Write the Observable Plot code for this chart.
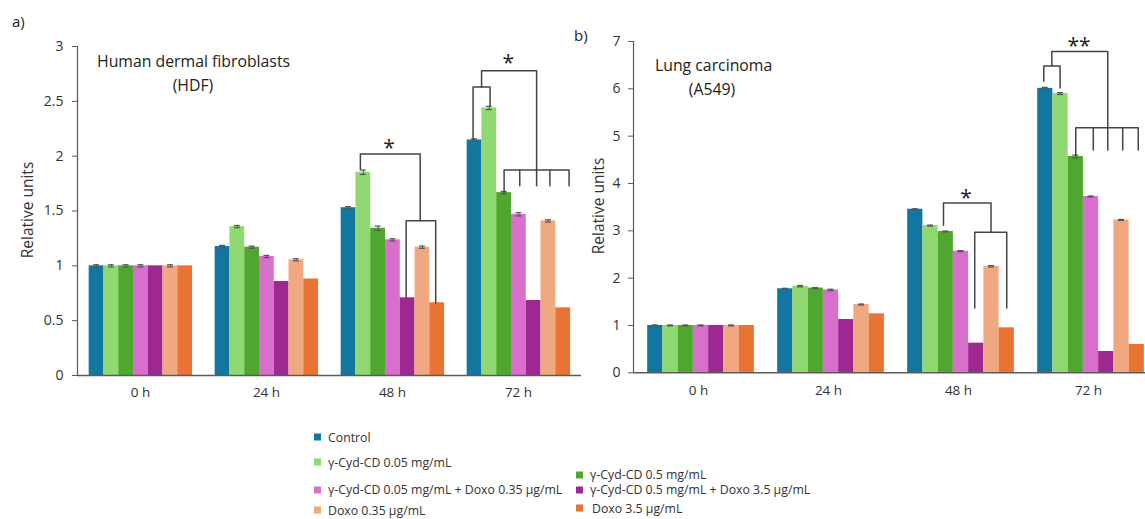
<!DOCTYPE html>
<html><head><meta charset="utf-8">
<script src="https://cdn.jsdelivr.net/npm/d3@7"></script>
<script src="https://cdn.jsdelivr.net/npm/@observablehq/plot@0.6"></script>
<style>
body{margin:0;width:1145px;height:519px;overflow:hidden;background:#fff;font-family:"Open Sans",sans-serif;position:relative;color:#222}
.abs{position:absolute;white-space:nowrap}
.lab{position:absolute;white-space:nowrap;transform:translate(-50%,-50%) rotate(-90deg);font-size:15.5px;color:#333}
.leg{position:absolute;white-space:nowrap;font-size:12.3px;color:#333;transform:translateY(-50%)}
.leg span{display:inline-block;width:7px;height:7px;margin-right:6px;vertical-align:middle;position:relative;top:-1px}
</style></head><body>
<div id="a" class="abs" style="left:0;top:0"></div>
<div id="b" class="abs" style="left:557.5px;top:0"></div>
<div id="txt"></div>
<script>
const times = ["0 h", "24 h", "48 h", "72 h"];
const series = ["Control", "γ-Cyd-CD 0.05 mg/mL", "γ-Cyd-CD 0.5 mg/mL",
  "γ-Cyd-CD 0.05 mg/mL + Doxo 0.35 µg/mL", "γ-Cyd-CD 0.5 mg/mL + Doxo 3.5 µg/mL",
  "Doxo 0.35 µg/mL", "Doxo 3.5 µg/mL"];
const colors = ["#13769f", "#8fd872", "#4fa72f", "#d86fcc", "#9d2890", "#f0a880", "#e97332"];

// Human dermal fibroblasts (HDF), one array per time point (series order)
const hdf0h  = [1.0, 1.0, 1.0, 1.0, 1.0, 1.0, 1.0];
const hdf24h = [1.176, 1.358, 1.17, 1.085, 0.857, 1.055, 0.88];
const hdf48h = [1.53, 1.853, 1.343, 1.237, 0.708, 1.17, 0.663];
const hdf72h = [2.148, 2.44, 1.668, 1.47, 0.684, 1.41, 0.617];
const hdfErr0h  = [0.01, 0.01, 0.01, 0.01, 0, 0.01, 0];
const hdfErr24h = [0.01, 0.01, 0.01, 0.01, 0, 0.01, 0];
const hdfErr48h = [0.01, 0.02, 0.02, 0.01, 0, 0.01, 0];
const hdfErr72h = [0.01, 0.015, 0.01, 0.015, 0, 0.01, 0];

// Lung carcinoma (A549)
const a5490h  = [1.0, 1.0, 1.0, 1.0, 1.0, 1.0, 1.0];
const a54924h = [1.775, 1.83, 1.79, 1.75, 1.126, 1.443, 1.246];
const a54948h = [3.456, 3.11, 2.985, 2.57, 0.626, 2.25, 0.95];
const a54972h = [6.01, 5.9, 4.57, 3.725, 0.45, 3.23, 0.6];
const a549Err0h  = [0.01, 0.01, 0.01, 0.01, 0, 0.01, 0];
const a549Err24h = [0.01, 0.015, 0.01, 0.015, 0, 0.01, 0];
const a549Err48h = [0.01, 0.01, 0.01, 0.01, 0, 0.015, 0];
const a549Err72h = [0.02, 0.02, 0.03, 0.01, 0, 0.01, 0];

const hdfTicks = [0, 0.5, 1, 1.5, 2, 2.5, 3];
const a549Ticks = [0, 1, 2, 3, 4, 5, 6, 7];

// significance brackets: [time, id, position in bar units within the group, value]
const hdfBrackets = [
  ["48 h","a",1.3,1.88],["48 h","a",1.3,2.02],["48 h","a",5.35,2.02],["48 h","a",5.35,1.41],
  ["48 h","b",4.4,0.71],["48 h","b",4.4,1.41],["48 h","b",6.4,1.41],["48 h","b",6.4,0.66],
  ["72 h","c",0.4,2.15],["72 h","c",0.4,2.63],["72 h","c",1.55,2.63],["72 h","c",1.55,2.46],
  ["72 h","d",0.975,2.63],["72 h","d",0.975,2.78],["72 h","d",4.7,2.78],["72 h","d",4.7,1.73],
  ["72 h","e",2.5,1.67],["72 h","e",2.5,1.875],["72 h","e",6.9,1.875],["72 h","e",6.9,1.73],
  ["72 h","f",3.56,1.875],["72 h","f",3.56,1.73],
  ["72 h","h",5.6,1.875],["72 h","h",5.6,1.73]
];
const a549Brackets = [
  ["48 h","a",2.35,3.12],["48 h","a",2.35,3.59],["48 h","a",5.47,3.59],["48 h","a",5.47,2.97],
  ["48 h","b",4.4,1.37],["48 h","b",4.4,2.97],["48 h","b",6.5,2.97],["48 h","b",6.5,1.37],
  ["72 h","c",0.4,6.16],["72 h","c",0.4,6.48],["72 h","c",1.47,6.48],["72 h","c",1.47,6.02],
  ["72 h","d",0.93,6.48],["72 h","d",0.93,6.79],["72 h","d",4.6,6.79],["72 h","d",4.6,4.71],
  ["72 h","e",2.5,4.59],["72 h","e",2.5,5.18],["72 h","e",6.6,5.18],["72 h","e",6.6,4.71],
  ["72 h","f",3.65,5.18],["72 h","f",3.65,4.71],
  ["72 h","h",5.58,5.18],["72 h","h",5.58,4.71]
];
const hdfStars = [["48 h", 3.24, 2.07, "*"], ["72 h", 2.79, 2.85, "*"]];
const a549Stars = [["48 h", 3.83, 3.68, "*"], ["72 h", 2.71, 6.9, "**"]];

function panel(cfg) {
  const rows = [];
  times.forEach((t, k) => cfg.values[k].forEach((v, i) =>
    rows.push({time: t, i, series: series[i], value: v, err: cfg.errs[k][i]})));
  const errRows = rows.filter(d => d.err > 0);
  const br = cfg.brackets.map(([time, id, x, y]) => ({time, id, x, y}));
  const st = cfg.stars.map(([time, x, y, text]) => ({time, x, y, text}));
  const [lo, hi] = cfg.xDomain;
  const ink = "#555";
  return Plot.plot({
    width: cfg.width, height: cfg.height,
    marginLeft: 75, marginRight: 5, marginTop: cfg.marginTop, marginBottom: cfg.marginBottom,
    style: {background: "transparent", overflow: "visible", maxWidth: "none", fontFamily: "Open Sans", fontSize: "14px", color: "#333"},
    fx: {domain: times, padding: 0, label: null},
    x: {domain: [lo, hi], axis: null},
    y: {domain: [0, cfg.ticks[cfg.ticks.length - 1]]},
    color: {domain: series, range: colors},
    marks: [
      Plot.rectY(rows, {fx: "time", x1: "i", x2: d => d.i + 1, y1: 0, y2: "value", fill: "series"}),
      Plot.ruleX(errRows, {fx: "time", x: d => d.i + 0.5, y1: d => d.value - d.err, y2: d => d.value + d.err, stroke: ink, strokeWidth: 1}),
      Plot.ruleY(errRows, {fx: "time", y: d => d.value + d.err, x1: d => d.i + 0.5, x2: d => d.i + 0.5, insetLeft: -3, insetRight: -3, stroke: ink, strokeWidth: 1.2}),
      Plot.ruleY(errRows, {fx: "time", y: d => d.value - d.err, x1: d => d.i + 0.5, x2: d => d.i + 0.5, insetLeft: -3, insetRight: -3, stroke: ink, strokeWidth: 1.2}),
      Plot.line(br, {fx: "time", x: "x", y: "y", z: "id", stroke: "#454545", strokeWidth: 1.5}),
      Plot.text(st, {fx: "time", x: "x", y: "y", text: "text", fontSize: 21, fill: "#222"}),
      Plot.ruleY([0], {stroke: "#5a5a5a", strokeWidth: 1.4}),
      Plot.ruleX([{t: times[0]}], {fx: "t", x: lo, stroke: "#5a5a5a", strokeWidth: 1.2}),
      Plot.axisY({ticks: cfg.ticks, tickSize: 5, tickPadding: cfg.tickPadding, tickFormat: d => String(d), label: null, stroke: "#5a5a5a", fill: "#333", fontSize: 14}),
      Plot.axisFx({anchor: "bottom", tickSize: 0, tickPadding: cfg.fxPadding, label: null, fill: "#333", fontSize: 13.5})
    ]
  });
}

document.getElementById("a").append(panel({
  values: [hdf0h, hdf24h, hdf48h, hdf72h], errs: [hdfErr0h, hdfErr24h, hdfErr48h, hdfErr72h],
  brackets: hdfBrackets, stars: hdfStars, ticks: hdfTicks,
  width: 587, height: 415, marginTop: 46, marginBottom: 40, xDomain: [-0.79, 7.74], tickPadding: 9, fxPadding: 12
}));
document.getElementById("b").append(panel({
  values: [a5490h, a54924h, a54948h, a54972h], errs: [a549Err0h, a549Err24h, a549Err48h, a549Err72h],
  brackets: a549Brackets, stars: a549Stars, ticks: a549Ticks,
  width: 600, height: 412.3, marginTop: 41, marginBottom: 40, xDomain: [-0.93, 7.6], tickPadding: 8, fxPadding: 13
}));

// titles, labels and legend
const txt = document.getElementById("txt");
function add(html, cls, style) {
  const d = document.createElement("div");
  d.className = cls; d.style.cssText = style; d.innerHTML = html; txt.append(d);
}
add("a)", "abs", "left:12px;top:11px;font-size:15px;color:#222");
add("b)", "abs", "left:574px;top:25px;font-size:15px;color:#222");
add("Human dermal fibroblasts", "abs", "left:97px;top:50px;font-size:15.8px;color:#222");
add("(HDF)", "abs", "left:193px;top:74px;font-size:15.8px;color:#222;transform:translateX(-50%)");
add("Lung carcinoma", "abs", "left:655px;top:54px;font-size:15.8px;color:#222");
add("(A549)", "abs", "left:712px;top:78px;font-size:15.8px;color:#222;transform:translateX(-50%)");
add("Relative units", "lab", "left:27px;top:210px");
add("Relative units", "lab", "left:598px;top:206px");
const legendItems = [
  [0, 314, 328, 436.7], [1, 314, 328, 461.7], [2, 576, 590, 474.3],
  [3, 314, 328, 489.3], [4, 576, 590, 489.3], [5, 314, 328, 510], [6, 576, 592, 508]
];
legendItems.forEach(([i, sx, tx, y]) => {
  add(`<span style="background:${colors[i]}"></span>`, "leg", `left:${sx}px;top:${y}px`);
  add(series[i], "leg", `left:${tx}px;top:${y}px`);
});
</script>
</body></html>
